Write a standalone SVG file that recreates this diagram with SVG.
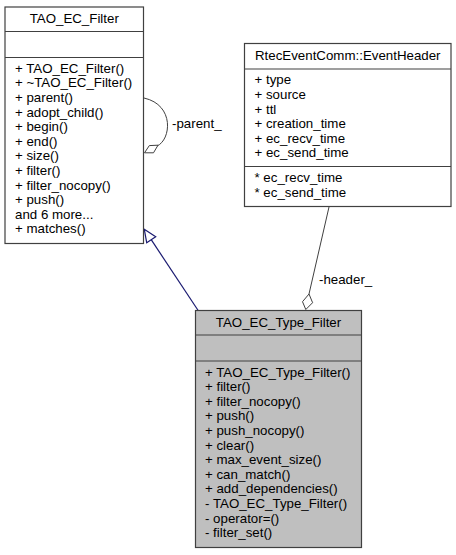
<svg xmlns="http://www.w3.org/2000/svg" width="456" height="555" viewBox="0 0 456 555">
<style>
text{font-family:"Liberation Sans",Arial,sans-serif;font-size:13.3px;fill:#000}
.box{fill:#fff;stroke:#404040;stroke-width:1.2}
.cur{fill:#bfbfbf;stroke:#404040;stroke-width:1.2}
.div{stroke:#404040;stroke-width:1.2;fill:none}
.agg{stroke:#404040;stroke-width:1;fill:none}
.inh{stroke:#191970;stroke-width:1.2;fill:none}
.c{text-anchor:middle}
</style>
<rect width="456" height="555" fill="#fff"/>
<g id="connectors">
<path class="agg" d="M144,98 C175,105 171,140 157,146"/>
<polygon points="144.5,152.8 149.3,145.6 158,145.2 153.5,152.8" fill="#fff" stroke="#404040" stroke-width="1"/>
<text x="172" y="128">-parent_</text>
<path class="inh" d="M198.5,311 L151.2,239.7"/>
<polygon points="144.3,229.3 146.7,242.7 155.7,236.7" fill="#fff" stroke="#191970" stroke-width="1.2"/>
<path class="agg" d="M329,207 L309,294"/>
<polygon points="309,294 302.5,301.7 305.8,309.5 312.6,302.7" fill="#fff" stroke="#404040" stroke-width="1"/>
<text x="319" y="284">-header_</text>
</g>
<g id="TAO_EC_Filter">
<rect class="box" x="5" y="7" width="138.5" height="236.5"/>
<path class="div" d="M5,31.5H143.5M5,57.5H143.5"/>
<text class="c" x="74.25" y="22.7">TAO_EC_Filter</text>
<text x="15" y="72.7">+ TAO_EC_Filter()</text>
<text x="15" y="87.3">+ ~TAO_EC_Filter()</text>
<text x="15" y="101.9">+ parent()</text>
<text x="15" y="116.5">+ adopt_child()</text>
<text x="15" y="131.1">+ begin()</text>
<text x="15" y="145.7">+ end()</text>
<text x="15" y="160.3">+ size()</text>
<text x="15" y="174.9">+ filter()</text>
<text x="15" y="189.5">+ filter_nocopy()</text>
<text x="15" y="204.1">+ push()</text>
<text x="15" y="218.7">and 6 more...</text>
<text x="15" y="233.3">+ matches()</text>
</g>
<g id="RtecEventComm_EventHeader">
<rect class="box" x="244.5" y="43.5" width="206.5" height="163"/>
<path class="div" d="M244.5,69H451M244.5,166.5H451"/>
<text class="c" x="347.75" y="59.5">RtecEventComm::EventHeader</text>
<text x="254.5" y="84.4">+ type</text>
<text x="254.5" y="99">+ source</text>
<text x="254.5" y="113.6">+ ttl</text>
<text x="254.5" y="128.2">+ creation_time</text>
<text x="254.5" y="142.8">+ ec_recv_time</text>
<text x="254.5" y="157.4">+ ec_send_time</text>
<text x="254.5" y="182">* ec_recv_time</text>
<text x="254.5" y="196.6">* ec_send_time</text>
</g>
<g id="TAO_EC_Type_Filter">
<rect class="cur" x="195.5" y="310.5" width="166" height="237"/>
<path class="div" d="M195.5,335H361.5M195.5,361H361.5"/>
<text class="c" x="278.5" y="327">TAO_EC_Type_Filter</text>
<text x="205" y="376.5">+ TAO_EC_Type_Filter()</text>
<text x="205" y="391.1">+ filter()</text>
<text x="205" y="405.7">+ filter_nocopy()</text>
<text x="205" y="420.3">+ push()</text>
<text x="205" y="434.9">+ push_nocopy()</text>
<text x="205" y="449.5">+ clear()</text>
<text x="205" y="464.1">+ max_event_size()</text>
<text x="205" y="478.7">+ can_match()</text>
<text x="205" y="493.3">+ add_dependencies()</text>
<text x="205" y="507.9">- TAO_EC_Type_Filter()</text>
<text x="205" y="522.5">- operator=()</text>
<text x="205" y="537.1">- filter_set()</text>
</g>
</svg>
